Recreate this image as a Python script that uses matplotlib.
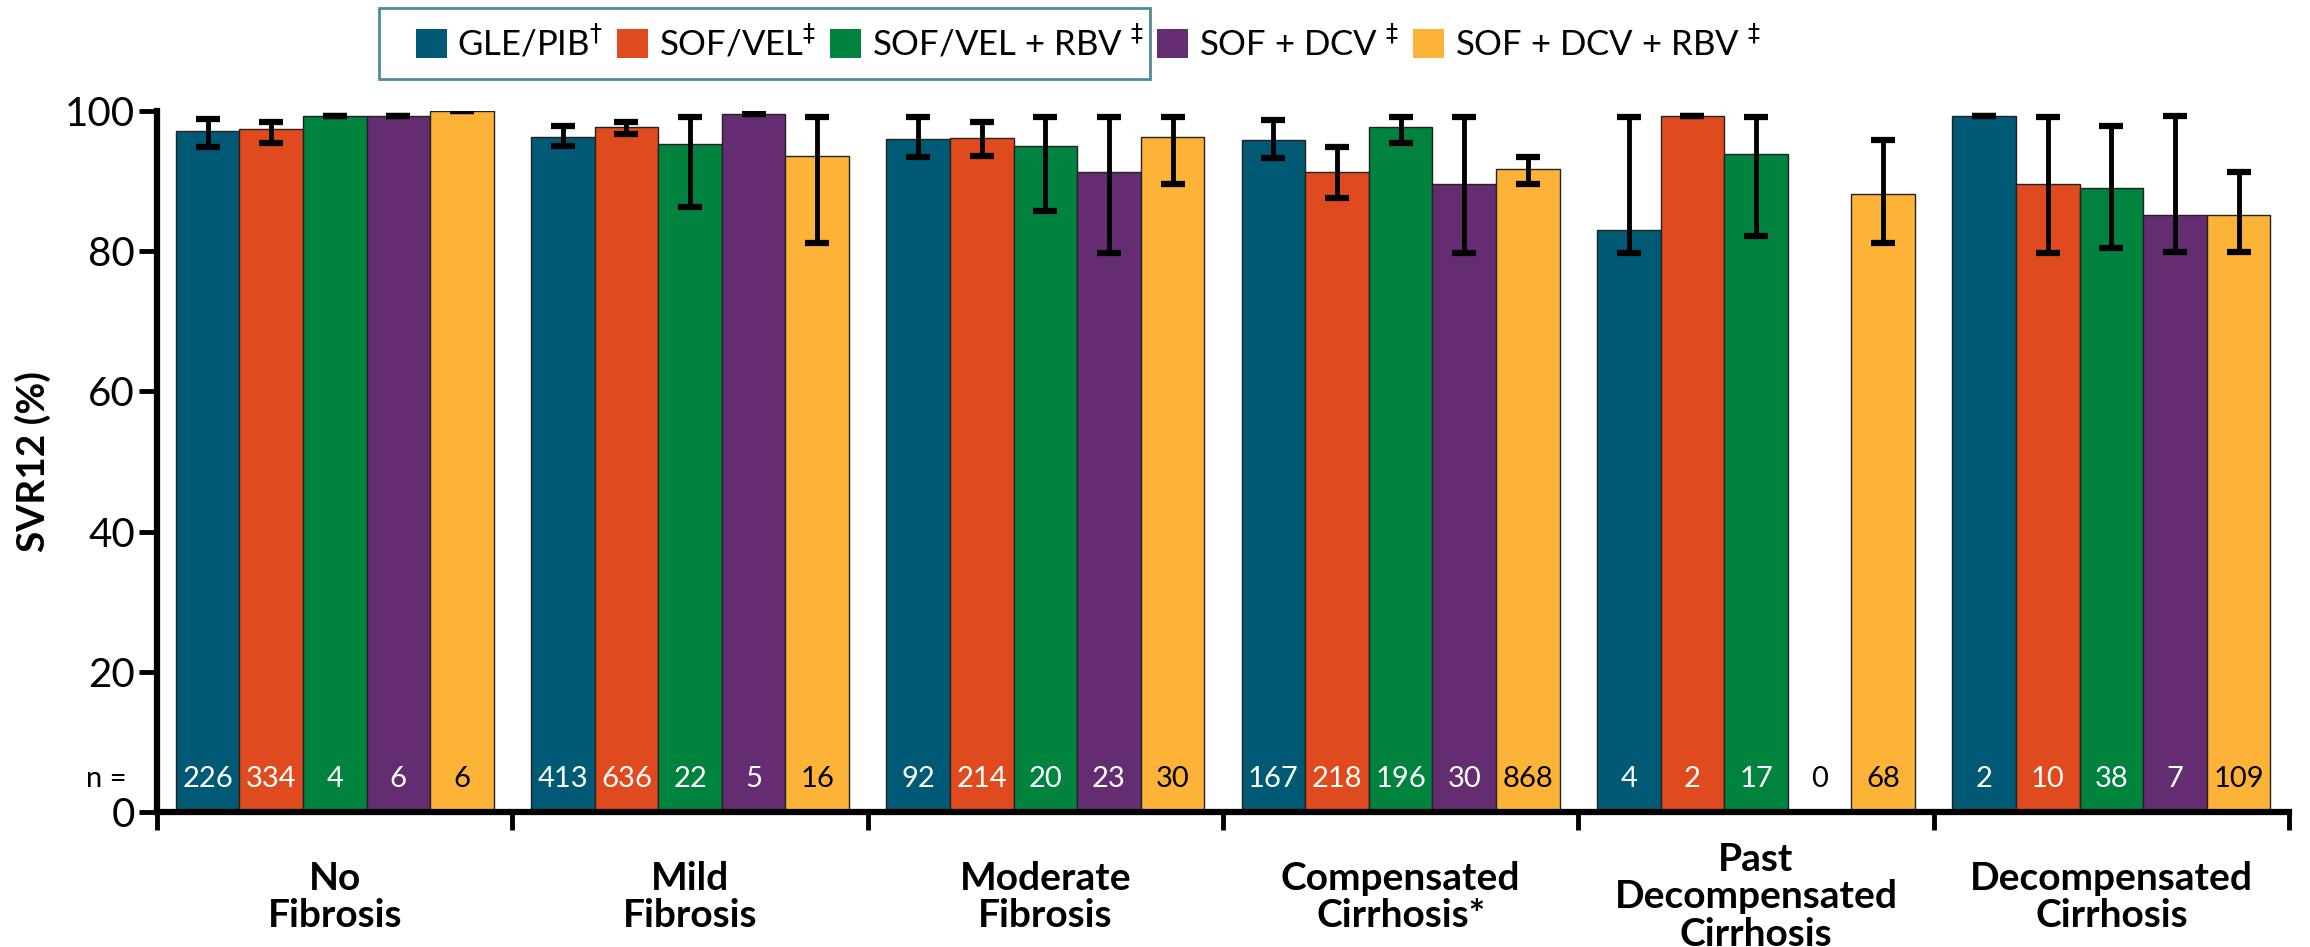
import numpy as np
import matplotlib.pyplot as plt
from matplotlib.patches import Patch, Rectangle

plt.rcParams['font.family'] = ['Lato', 'DejaVu Sans']

categories = ['No\nFibrosis', 'Mild\nFibrosis', 'Moderate\nFibrosis',
              'Compensated\nCirrhosis*', 'Past\nDecompensated\nCirrhosis',
              'Decompensated\nCirrhosis']
regimens = [r'GLE/PIB$^{\dagger}$', r'SOF/VEL$^{\ddagger}$', r'SOF/VEL + RBV $^{\ddagger}$',
            r'SOF + DCV $^{\ddagger}$', r'SOF + DCV + RBV $^{\ddagger}$']
colors = ['#005A76', '#E04A1F', '#00833E', '#652D71', '#FDB338']
n_color = ['white', 'white', 'white', 'white', 'black']

# SVR12 (%) per category, one list per regimen
svr_gle = [97.1, 96.3, 96.0, 95.9, 83.0, 99.3]
svr_sofvel = [97.4, 97.7, 96.1, 91.3, 99.3, 89.6]
svr_sofvel_rbv = [99.3, 95.3, 95.0, 97.7, 93.9, 89.0]
svr_sofdcv = [99.3, 99.5, 91.3, 89.6, np.nan, 85.2]
svr_sofdcv_rbv = [100.0, 93.6, 96.3, 91.7, 88.2, 85.1]

# confidence interval upper / lower bounds
hi_gle = [98.8, 97.8, 99.1, 98.7, 99.2, 99.3]
lo_gle = [94.8, 95.0, 93.4, 93.3, 79.7, 99.3]
hi_sofvel = [98.4, 98.4, 98.4, 94.8, 99.3, 99.1]
lo_sofvel = [95.4, 96.7, 93.6, 87.6, 99.3, 79.7]
hi_sofvel_rbv = [99.3, 99.1, 99.2, 99.2, 99.1, 97.9]
lo_sofvel_rbv = [99.3, 86.3, 85.7, 95.4, 82.2, 80.4]
hi_sofdcv = [99.3, 99.5, 99.2, 99.2, np.nan, 99.3]
lo_sofdcv = [99.3, 99.5, 79.7, 79.7, np.nan, 79.9]
hi_sofdcv_rbv = [100.0, 99.1, 99.2, 93.4, 95.8, 91.3]
lo_sofdcv_rbv = [100.0, 81.1, 89.6, 89.6, 81.1, 79.9]

n_gle = [226, 413, 92, 167, 4, 2]
n_sofvel = [334, 636, 214, 218, 2, 10]
n_sofvel_rbv = [4, 22, 20, 196, 17, 38]
n_sofdcv = [6, 5, 23, 30, 0, 7]
n_sofdcv_rbv = [6, 16, 30, 868, 68, 109]

svr_all = [svr_gle, svr_sofvel, svr_sofvel_rbv, svr_sofdcv, svr_sofdcv_rbv]
hi_all = [hi_gle, hi_sofvel, hi_sofvel_rbv, hi_sofdcv, hi_sofdcv_rbv]
lo_all = [lo_gle, lo_sofvel, lo_sofvel_rbv, lo_sofdcv, lo_sofdcv_rbv]
n_all = [n_gle, n_sofvel, n_sofvel_rbv, n_sofdcv, n_sofdcv_rbv]

fig = plt.figure(figsize=(23.1, 9.47), dpi=100)
ax = fig.add_axes([0.068, 0.1426, 0.9229, 0.7402])

x = np.arange(len(categories))
w = 0.179
for j in range(5):
    vals = np.array(svr_all[j], dtype=float)
    hi = np.array(hi_all[j], dtype=float)
    lo = np.array(lo_all[j], dtype=float)
    pos = x + (j - 2) * w
    ax.bar(pos, vals, w, color=colors[j], edgecolor='#222222', linewidth=1, zorder=2)
    ax.errorbar(pos, vals, yerr=[vals - lo, hi - vals], fmt='none', ecolor='black',
                elinewidth=3.5, capsize=8.5, capthick=4.5, zorder=3)
    for i in range(len(categories)):
        c = n_color[j] if not np.isnan(vals[i]) else 'black'
        ax.text(pos[i], 3.5, str(n_all[j][i]), ha='center', va='baseline',
                fontsize=21, color=c, zorder=4)

ax.text(-0.0145, 3.5, 'n =', transform=ax.get_yaxis_transform(), ha='right',
        va='baseline', fontsize=21)

ax.set_xlim(-0.5, 5.5)
ax.set_ylim(0, 100)
ax.set_yticks([0, 20, 40, 60, 80, 100])
ax.set_xticks(np.arange(-0.5, 6.0, 1.0))
ax.set_xticklabels([])
for sp in ['top', 'right']:
    ax.spines[sp].set_visible(False)
for sp in ['left', 'bottom']:
    ax.spines[sp].set_linewidth(4.5)
ax.tick_params(axis='y', length=13, width=3.5, labelsize=29, pad=3)
ax.tick_params(axis='x', length=13, width=3.5)
ax.set_ylabel('SVR12 (%)', fontsize=28, fontweight='bold', labelpad=10)

for i, cat in enumerate(categories):
    ax.text(x[i], -0.121, cat, transform=ax.get_xaxis_transform(), ha='center',
            va='center', fontsize=28, fontweight='bold', linespacing=1.08)

handles = [Patch(facecolor=c) for c in colors]
fig.legend(handles, regimens, loc='center left', bbox_to_anchor=(0.180, 1 - 43 / 947),
           ncol=5, frameon=False, fontsize=25, handlelength=0.9, handleheight=0.9,
           handletextpad=0.3, columnspacing=0.4, borderpad=0, borderaxespad=0)
fig.add_artist(Rectangle((379 / 2310, 1 - 79 / 947), (1150 - 379) / 2310, 71 / 947,
                         transform=fig.transFigure, fill=False,
                         edgecolor='#4f8b9b', linewidth=2))

fig.savefig('out.png', dpi=100)
